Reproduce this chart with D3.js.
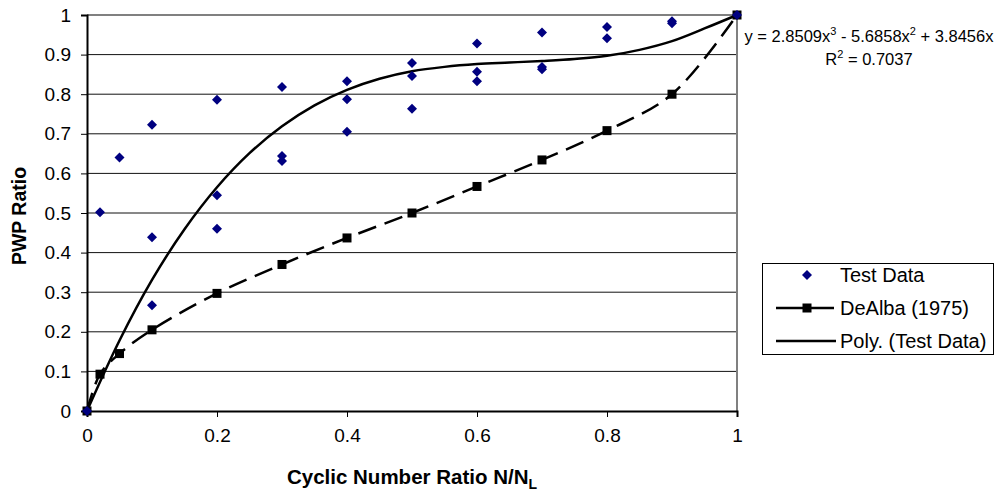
<!DOCTYPE html>
<html>
<head>
<meta charset="utf-8">
<script src="https://cdn.jsdelivr.net/npm/d3@7"></script>
<style>
  body { margin: 0; background: #fff; }
  text { font-family: "Liberation Sans", Arial, sans-serif; }
</style>
</head>
<body>
<script>
// test data (x = N/NL, y = PWP ratio)
var testX = [0, 0.02, 0.05, 0.1, 0.1, 0.1, 0.2, 0.2, 0.2, 0.3, 0.3, 0.3, 0.4, 0.4, 0.4,
             0.5, 0.5, 0.5, 0.6, 0.6, 0.6, 0.7, 0.7, 0.7, 0.8, 0.8, 0.9, 0.9, 1];
var testY = [0, 0.502, 0.640, 0.723, 0.439, 0.267, 0.786, 0.545, 0.460, 0.818, 0.644, 0.631,
             0.833, 0.787, 0.705, 0.879, 0.846, 0.763, 0.928, 0.857, 0.833, 0.956, 0.869, 0.863,
             0.970, 0.941, 0.984, 0.979, 1];

// DeAlba (1975) curve
var dealbaX = [0, 0.02, 0.05, 0.1, 0.2, 0.3, 0.4, 0.5, 0.6, 0.7, 0.8, 0.9, 1];
var dealbaY = [0, 0.093, 0.145, 0.205, 0.297, 0.370, 0.437, 0.500, 0.567, 0.634, 0.708, 0.800, 1];

// poly trendline, values
var polyX = [0, 0.05, 0.1, 0.15, 0.2, 0.25, 0.3, 0.35, 0.4, 0.45, 0.5,
             0.55, 0.6, 0.65, 0.7, 0.75, 0.8, 0.85, 0.9, 0.95, 1];
var polyY = [0, 0.178, 0.331, 0.459, 0.565, 0.651, 0.719, 0.772, 0.811, 0.839, 0.858,
             0.869, 0.876, 0.880, 0.884, 0.889, 0.897, 0.912, 0.934, 0.966, 1.0];

var xTicks = [0, 0.2, 0.4, 0.6, 0.8, 1];
var xTickLabels = ["0", "0.2", "0.4", "0.6", "0.8", "1"];
var yTicks = [0, 0.1, 0.2, 0.3, 0.4, 0.5, 0.6, 0.7, 0.8, 0.9, 1];
var yTickLabels = ["0", "0.1", "0.2", "0.3", "0.4", "0.5", "0.6", "0.7", "0.8", "0.9", "1"];

var legendNames = ["Test Data", "DeAlba (1975)", "Poly. (Test Data)"];

var svg = d3.select("body").append("svg")
  .attr("width", 996)
  .attr("height", 495);

// plot box (don't call these top/left, window.top is read only)
var pLeft = 87, pRight = 737, pTop = 15, pBottom = 411;

var x = d3.scaleLinear().domain([0, 1]).range([pLeft, pRight]);
var y = d3.scaleLinear().domain([0, 1]).range([pBottom, pTop]);

// gridlines
svg.append("g")
  .selectAll("line")
  .data(yTicks.slice(1, -1))
  .enter()
  .append("line")
    .attr("x1", pLeft)
    .attr("x2", pRight)
    .attr("y1", function(d){ return y(d); })
    .attr("y2", function(d){ return y(d); })
    .attr("stroke", "#111")
    .attr("stroke-width", 1);

// frame top + right (grey)
svg.append("line").attr("x1", pLeft).attr("x2", pRight).attr("y1", pTop).attr("y2", pTop)
  .attr("stroke", "#808080").attr("stroke-width", 2);
svg.append("line").attr("x1", pRight).attr("x2", pRight).attr("y1", pTop).attr("y2", pBottom)
  .attr("stroke", "#808080").attr("stroke-width", 2);

// axes
var xAxis = d3.axisBottom(x)
  .tickValues(xTicks)
  .tickFormat(function(d, i){ return xTickLabels[i]; })
  .tickSize(6)
  .tickPadding(12);
var yAxis = d3.axisLeft(y)
  .tickValues(yTicks)
  .tickFormat(function(d, i){ return yTickLabels[i]; })
  .tickSize(6)
  .tickPadding(10);

var gx = svg.append("g").attr("transform", "translate(0," + pBottom + ")").call(xAxis);
var gy = svg.append("g").attr("transform", "translate(" + pLeft + ",0)").call(yAxis);

[gx, gy].forEach(function(g){
  g.select(".domain").attr("stroke", "#000").attr("stroke-width", 2);
  g.selectAll(".tick line").attr("stroke", "#000");
  g.selectAll(".tick text")
    .attr("fill", "#000")
    .style("font-size", "19px")
    .style("font-family", "'Liberation Sans', Arial, sans-serif");
});

// axis titles
svg.append("text")
  .attr("x", 412)
  .attr("y", 484)
  .attr("text-anchor", "middle")
  .style("font-size", "20.5px")
  .style("font-weight", "bold")
  .text("Cyclic Number Ratio N/N")
  .append("tspan")
    .attr("dy", 5)
    .style("font-size", "14px")
    .text("L");

svg.append("text")
  .attr("transform", "translate(26,216) rotate(-90)")
  .attr("text-anchor", "middle")
  .style("font-size", "19.5px")
  .style("font-weight", "bold")
  .text("PWP Ratio");

// clip to plot
svg.append("clipPath").attr("id", "clip")
  .append("rect").attr("x", pLeft - 6).attr("y", pTop - 6)
  .attr("width", pRight - pLeft + 12).attr("height", pBottom - pTop + 12);

var plot = svg.append("g").attr("clip-path", "url(#clip)");

// poly trendline
var polyPts = polyX.map(function(v, i){ return [v, polyY[i]]; });
var line = d3.line()
  .x(function(d){ return x(d[0]); })
  .y(function(d){ return y(d[1]); })
  .curve(d3.curveCatmullRom);

plot.append("path")
  .datum(polyPts)
  .attr("d", line)
  .attr("fill", "none")
  .attr("stroke", "#000")
  .attr("stroke-width", 2.5);

// DeAlba dashed
var dealbaPts = dealbaX.map(function(v, i){ return [v, dealbaY[i]]; });
plot.append("path")
  .datum(dealbaPts)
  .attr("d", line)
  .attr("fill", "none")
  .attr("stroke", "#000")
  .attr("stroke-width", 2.5)
  .attr("stroke-dasharray", "19,9");

plot.selectAll(".sq")
  .data(dealbaPts)
  .enter()
  .append("rect")
    .attr("class", "sq")
    .attr("x", function(d){ return x(d[0]) - 4.5; })
    .attr("y", function(d){ return y(d[1]) - 4.5; })
    .attr("width", 9)
    .attr("height", 9)
    .attr("fill", "#000");

// test data diamonds (square turned 45deg)
var diamond = "M0,-5L5,0L0,5L-5,0Z";
var testPts = testX.map(function(v, i){ return [v, testY[i]]; });
plot.selectAll(".pt")
  .data(testPts)
  .enter()
  .append("path")
    .attr("class", "pt")
    .attr("d", diamond)
    .attr("transform", function(d){ return "translate(" + x(d[0]) + "," + y(d[1]) + ")"; })
    .attr("fill", "#000080");

// trendline equation
var eq = svg.append("text")
  .attr("x", 869)
  .attr("y", 42)
  .attr("text-anchor", "middle")
  .style("font-size", "16.5px");
eq.append("tspan").text("y = 2.8509x");
eq.append("tspan").attr("dy", -7).style("font-size", "11px").text("3");
eq.append("tspan").attr("dy", 7).text(" - 5.6858x");
eq.append("tspan").attr("dy", -7).style("font-size", "11px").text("2");
eq.append("tspan").attr("dy", 7).text(" + 3.8456x");

var r2 = svg.append("text")
  .attr("x", 869)
  .attr("y", 65)
  .attr("text-anchor", "middle")
  .style("font-size", "16.5px");
r2.append("tspan").text("R");
r2.append("tspan").attr("dy", -7).style("font-size", "11px").text("2");
r2.append("tspan").attr("dy", 7).text(" = 0.7037");

// legend
var lg = svg.append("g");
lg.append("rect")
  .attr("x", 762.5).attr("y", 263.5)
  .attr("width", 231).attr("height", 91)
  .attr("fill", "#fff")
  .attr("stroke", "#000");

var rowY = [275, 308, 341];
lg.selectAll(".lt")
  .data(legendNames)
  .enter()
  .append("text")
    .attr("x", 840)
    .attr("y", function(d, i){ return rowY[i] + 7; })
    .style("font-size", "20px")
    .text(function(d){ return d; });

lg.append("path")
  .attr("d", diamond)
  .attr("transform", "translate(807," + rowY[0] + ")")
  .attr("fill", "#000080");
lg.append("line")
  .attr("x1", 776).attr("x2", 834)
  .attr("y1", rowY[1]).attr("y2", rowY[1])
  .attr("stroke", "#000").attr("stroke-width", 2.5);
lg.append("rect")
  .attr("x", 802.5).attr("y", rowY[1] - 4.5)
  .attr("width", 9).attr("height", 9)
  .attr("fill", "#000");
lg.append("line")
  .attr("x1", 776).attr("x2", 836)
  .attr("y1", rowY[2]).attr("y2", rowY[2])
  .attr("stroke", "#000").attr("stroke-width", 2.5);
</script>
</body>
</html>
